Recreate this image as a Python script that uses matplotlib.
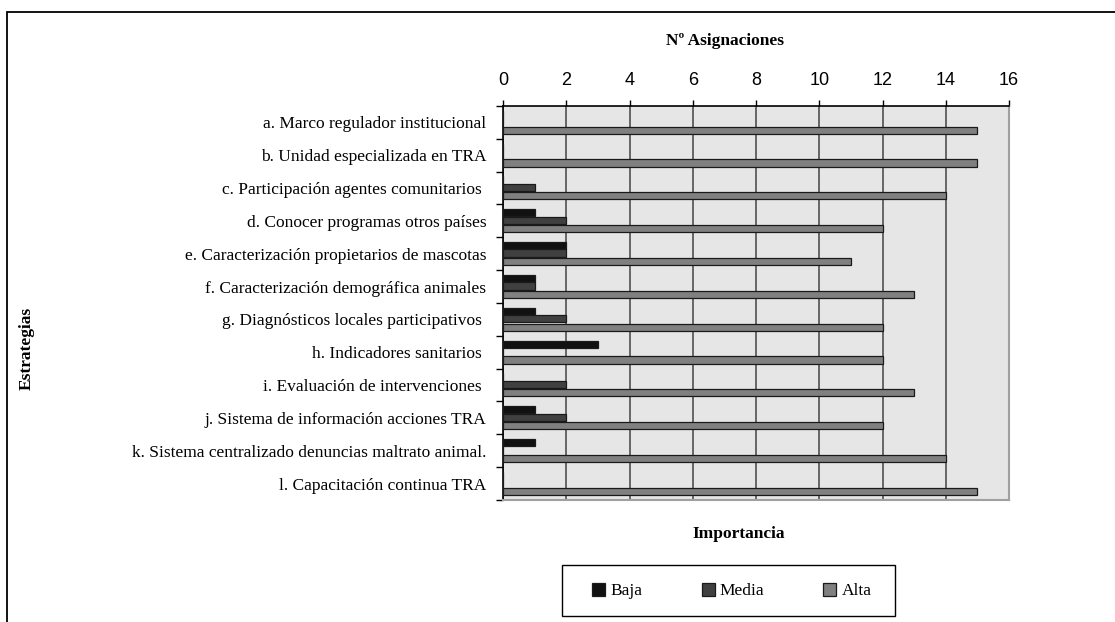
#!/usr/bin/env python

import numpy as np
import matplotlib
matplotlib.use("Agg")
import matplotlib.pyplot as plt
import matplotlib.patches as patches


# strategies (top to bottom)
estrategias = [
	"a. Marco regulador institucional",
	"b. Unidad especializada en TRA",
	"c. Participación agentes comunitarios ",
	"d. Conocer programas otros países",
	"e. Caracterización propietarios de mascotas",
	"f. Caracterización demográfica animales",
	"g. Diagnósticos locales participativos ",
	"h. Indicadores sanitarios ",
	"i. Evaluación de intervenciones ",
	"j. Sistema de información acciones TRA",
	"k. Sistema centralizado denuncias maltrato animal.",
	"l. Capacitación continua TRA",
]

# number of assignments per importance level
baja = [0, 0, 0, 1, 2, 1, 1, 3, 0, 1, 1, 0]
media = [0, 0, 1, 2, 2, 1, 2, 0, 2, 2, 0, 0]
alta = [15, 15, 14, 12, 11, 13, 12, 12, 13, 12, 14, 15]

niveles = ["Baja", "Media", "Alta"]
colores = ["#111111", "#404040", "#808080"]
xticks = [0, 2, 4, 6, 8, 10, 12, 14, 16]

SERIF = "Liberation Serif"
SANS = "Liberation Sans"

W, H = 1115, 622


def main():
	fig = plt.figure(figsize=(W / 100, H / 100), dpi=100)

	# outer frame, runs off the right and bottom of the picture
	frame = patches.Rectangle((7 / W, 0 - 0.05), 1.2, 1 - 12 / H + 0.05,
							  transform=fig.transFigure, fill=False,
							  edgecolor="black", linewidth=1.3)
	fig.patches.append(frame)

	ax = fig.add_axes([503 / W, 1 - 500 / H, (1009 - 503) / W, (500 - 106) / H])
	ax.set_facecolor("#e6e6e6")

	y = np.arange(len(estrategias))
	h = 0.22
	offsets = [-0.245, -0.02, 0.235]
	for vals, off, col, lab in zip([baja, media, alta], offsets, colores, niveles):
		ax.barh(y + off, vals, height=h, color=col, edgecolor="#1a1a1a",
				linewidth=0.9, label=lab, zorder=3)

	ax.set_xlim(0, 16)
	ax.set_ylim(len(estrategias) - 0.5, -0.5)

	# x axis on top
	ax.xaxis.tick_top()
	ax.set_xticks(xticks)
	ax.set_xticklabels([str(t) for t in xticks], fontfamily=SANS, fontsize=13)
	ax.tick_params(axis="x", direction="out", length=4, width=1, pad=8)
	ax.grid(axis="x", color="#505050", linewidth=1.2, zorder=1)

	# category boundaries as ticks, labels in between
	ax.set_yticks(np.arange(len(estrategias) + 1) - 0.5)
	ax.set_yticklabels([])
	ax.set_yticks(y, minor=True)
	ax.set_yticklabels(estrategias, minor=True, fontfamily=SERIF, fontsize=12.5)
	ax.tick_params(axis="y", which="major", direction="out", length=5, width=1)
	ax.tick_params(axis="y", which="minor", length=0, pad=12)

	for s in ["top", "left"]:
		ax.spines[s].set_color("black")
		ax.spines[s].set_linewidth(1.2)
	for s in ["right", "bottom"]:
		ax.spines[s].set_color("#a0a0a0")
		ax.spines[s].set_linewidth(1.5)

	fig.text(725 / W, 1 - 41 / H, "Nº Asignaciones", fontfamily=SERIF,
			 fontweight="bold", fontsize=12.5, ha="center", va="center")
	fig.text(739 / W, 1 - 534 / H, "Importancia", fontfamily=SERIF,
			 fontweight="bold", fontsize=12.5, ha="center", va="center")
	fig.text(27 / W, 1 - 348 / H, "Estrategias", fontfamily=SERIF,
			 fontweight="bold", fontsize=12.5, ha="center", va="center",
			 rotation=90)

	# legend entries, with a plain box drawn around them
	fig.legend(loc="center", bbox_to_anchor=(732 / W, 1 - 591 / H), ncol=3,
			   frameon=False, prop={"family": SERIF, "size": 12.5},
			   handlelength=0.75, handleheight=0.75, handletextpad=0.3,
			   columnspacing=3.4, borderpad=0.9, borderaxespad=0)
	box = patches.Rectangle((562 / W, 1 - 616 / H), (895 - 562) / W, (616 - 565) / H,
							transform=fig.transFigure, fill=False,
							edgecolor="black", linewidth=1.0)
	fig.patches.append(box)

	fig.savefig("out.png", dpi=100)


if __name__ == '__main__':
	main()
